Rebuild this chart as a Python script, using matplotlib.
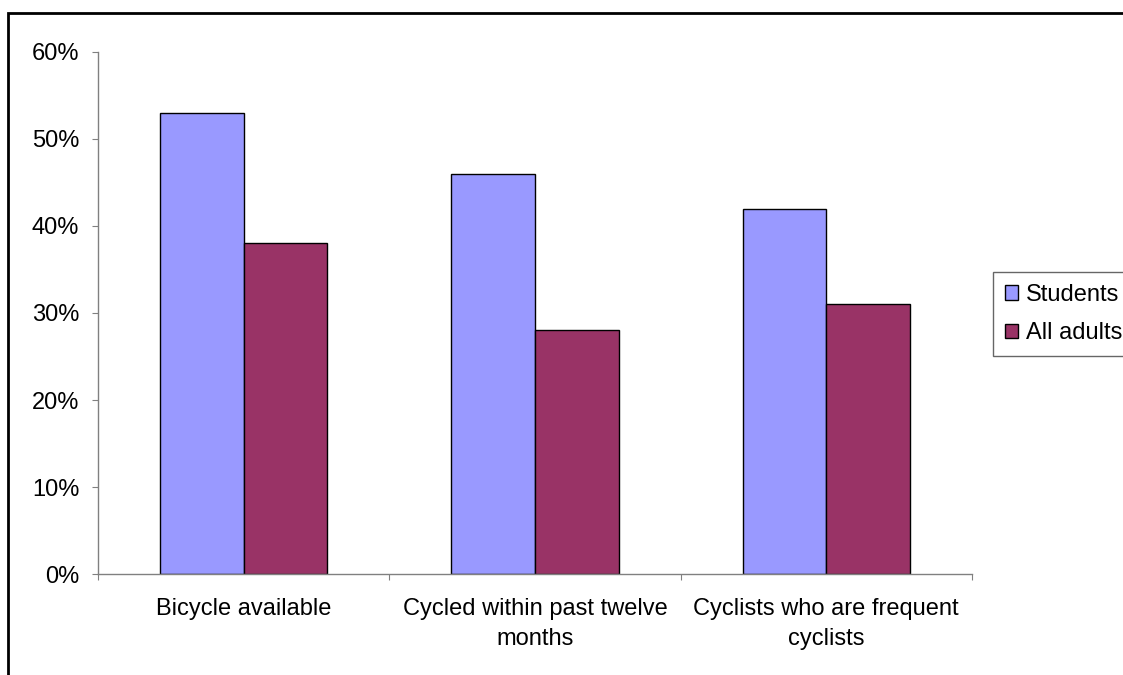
import matplotlib.pyplot as plt
from matplotlib.patches import Patch, Rectangle
from matplotlib.ticker import FuncFormatter

# data
categories = ["Bicycle available", "Cycled within past twelve\nmonths",
              "Cyclists who are frequent\ncyclists"]
students = [53, 46, 42]
all_adults = [38, 28, 31]
series_names = ["Students", "All adults"]
colors = ["#9999FF", "#993366"]


def main():
    plt.rcParams['font.family'] = ['Liberation Sans', 'DejaVu Sans']

    fig = plt.figure(figsize=(11.23, 6.75), dpi=100)
    ax = fig.add_axes([0.0873, 0.1496, 0.7782, 0.7734])

    # outer chart border (cut off at right and bottom like the original)
    fig.patches.append(Rectangle((8 / 1123, -0.1), 1.2, (675 - 13) / 675 + 0.1,
                                 transform=fig.transFigure, fill=False,
                                 edgecolor="black", linewidth=2, clip_on=False))

    w = 0.2867
    x = list(range(len(categories)))
    ax.bar([i - w / 2 for i in x], students, width=w, color=colors[0],
           edgecolor="black", linewidth=1)
    ax.bar([i + w / 2 for i in x], all_adults, width=w, color=colors[1],
           edgecolor="black", linewidth=1)

    ax.set_xlim(-0.5, len(categories) - 0.5)
    ax.set_ylim(0, 60)
    ax.set_yticks(range(0, 61, 10))
    ax.yaxis.set_major_formatter(FuncFormatter(lambda v, p: f"{v:.0f}%"))

    # boundary ticks as major, category labels as minor
    ax.set_xticks([i - 0.5 for i in range(len(categories) + 1)])
    ax.set_xticklabels([])
    ax.set_xticks(x, minor=True)
    ax.set_xticklabels(categories, minor=True, linespacing=1.5)

    for s in ["top", "right"]:
        ax.spines[s].set_visible(False)
    for s in ["left", "bottom"]:
        ax.spines[s].set_color("#808080")
        ax.spines[s].set_linewidth(1)

    ax.tick_params(axis="both", which="major", direction="out", length=4.5,
                   color="#808080", labelsize=17)
    ax.tick_params(axis="y", pad=9)
    ax.tick_params(axis="x", which="minor", length=0, pad=17, labelsize=17)

    handles = [Patch(facecolor=c, edgecolor="black", linewidth=1) for c in colors]
    leg = fig.legend(handles, series_names, loc="upper left",
                     bbox_to_anchor=(993 / 1123, (675 - 272) / 675),
                     fontsize=17, frameon=True, fancybox=False,
                     handlelength=0.55, handleheight=0.55, handletextpad=0.35,
                     borderpad=0.5, labelspacing=0.7, borderaxespad=0)
    leg.get_frame().set_edgecolor("#404040")
    leg.get_frame().set_linewidth(1)

    fig.savefig("out.png", dpi=100)


if __name__ == "__main__":
    main()
